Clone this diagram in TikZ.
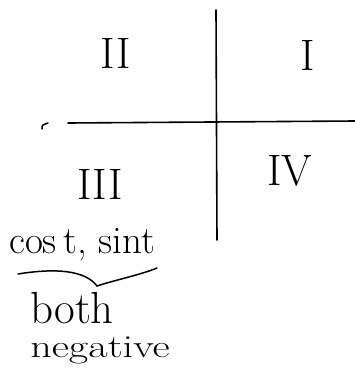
\documentclass[tikz,border=0pt]{standalone}
\usepackage{fontspec}
\tikzset{
  axis/.style={line width=1.6pt, line cap=round},
  ink/.style={line width=1.5pt, line cap=round},
  numeral/.style={inner sep=0pt, font=\fontsize{44}{44}\selectfont},
  hand/.style={inner sep=0pt, anchor=base west},
}
\begin{document}
\begin{tikzpicture}[x=1pt,y=-1pt]
\useasboundingbox (0,0) rectangle (355,381);
% axes
\coordinate (top) at (216,10);
\coordinate (bot) at (217,240);
\coordinate (left) at (68,123);
\coordinate (right) at (355,121);
\draw[axis] (top) -- (bot);
\draw[axis] (left) -- (right);
% small tick at left
\coordinate (tka) at (42,129);
\coordinate (tkb) at (48,123);
\draw[ink] (tka) .. controls (42,125) .. (tkb);
% quadrant labels
\node[numeral] (q2) at (116,53) {II};
\node[numeral] (q1) at (308,55) {I};
\node[numeral] (q3) at (100,184) {III};
\node[numeral] (q4) at (290,171) {IV};
% text
\node[hand, font=\fontsize{39}{39}\selectfont] (cs) at (9,253) {cos\,t, sint};
\coordinate (bra) at (18,274);
\coordinate (brm) at (97,286);
\coordinate (brb) at (157,268);
\draw[ink] (bra) .. controls (55,268) and (85,270) .. (brm)
               .. controls (115,280) and (140,275) .. (brb);
\node[hand, font=\fontsize{45}{45}\selectfont] (both) at (30,323) {both};
\node[hand, font=\fontsize{32}{32}\selectfont, xscale=1.32] (neg) at (30,357) {negative};
\end{tikzpicture}
\end{document}
